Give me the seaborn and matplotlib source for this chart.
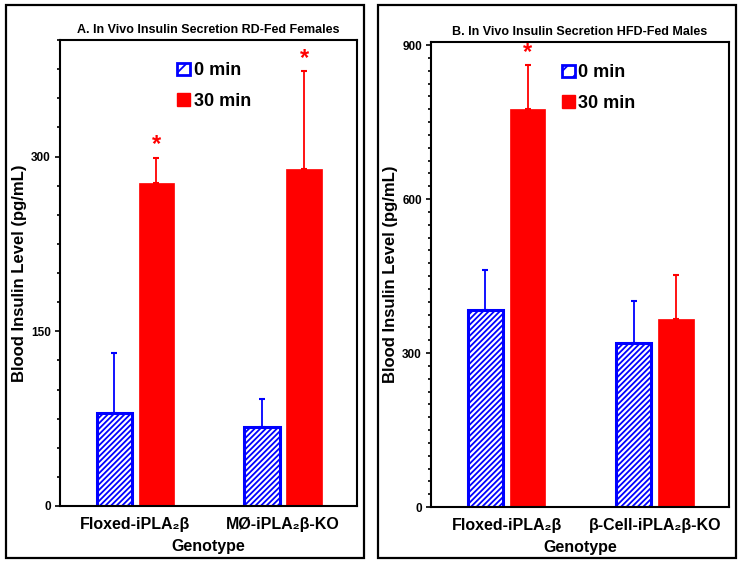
import pandas as pd
import seaborn as sns
import matplotlib.pyplot as plt
from matplotlib.patches import Patch, Rectangle
from matplotlib.ticker import MultipleLocator

# values (pg/mL), errors are upper SEM
groups_a = ['Floxed-iPLA₂β', 'MØ-iPLA₂β-KO']
a_0min = [80, 68]
a_0min_err = [51, 24]
a_30min = [277, 289]
a_30min_err = [22, 84]
a_signif = [True, True]

groups_b = ['Floxed-iPLA₂β', 'β-Cell-iPLA₂β-KO']
b_0min = [383, 320]
b_0min_err = [78, 81]
b_30min = [775, 367]
b_30min_err = [86, 86]
b_signif = [True, False]

times = ['0 min', '30 min']
BLUE = '#0000FF'
RED = '#FF0000'

sns.set_style('ticks')
plt.rcParams['font.family'] = ['Liberation Sans', 'DejaVu Sans']
plt.rcParams['font.weight'] = 'bold'
plt.rcParams['hatch.linewidth'] = 1.3
for k in ['text.color', 'axes.labelcolor', 'xtick.color', 'ytick.color']:
    plt.rcParams[k] = 'black'


def draw_panel(ax, groups, v0, e0, v30, e30, signif, title, ymax, major, legend_x):
    df = pd.DataFrame({
        'Genotype': groups * 2,
        'Time': [times[0]] * len(groups) + [times[1]] * len(groups),
        'Insulin': v0 + v30,
    })
    sns.barplot(data=df, x='Genotype', y='Insulin', hue='Time', order=groups,
                hue_order=times, palette=[BLUE, RED], errorbar=None,
                width=0.57, gap=0.16, legend=False, ax=ax)
    errs = e0 + e30
    n = len(groups)
    for i, p in enumerate(ax.patches):
        x = p.get_x() + p.get_width() / 2
        h = p.get_height()
        if i < n:
            p.set_facecolor('white')
            p.set_edgecolor(BLUE)
            p.set_hatch('//////')
            p.set_linewidth(2.2)
            col = BLUE
        else:
            p.set_facecolor(RED)
            p.set_edgecolor(RED)
            p.set_linewidth(0.5)
            col = RED
        ax.errorbar([x], [h], yerr=[[0], [errs[i]]], fmt='none', ecolor=col,
                    elinewidth=1.3, capsize=2.2, capthick=1.5, zorder=1)
        if i >= n and signif[i - n]:
            ax.annotate('*', (x, h + errs[i]), xytext=(0, 1), textcoords='offset points',
                        ha='center', va='bottom', color=RED, fontsize=17, fontweight='bold')

    ax.set_xlim(-0.51, 1.5)
    ax.set_ylim(0, ymax)
    ax.yaxis.set_major_locator(MultipleLocator(major))
    ax.yaxis.set_minor_locator(MultipleLocator(25))
    ax.tick_params(axis='y', which='major', length=3.5, width=1.2, labelsize=8.5, pad=3)
    ax.tick_params(axis='y', which='minor', length=2, width=1.2, left=True)
    ax.tick_params(axis='x', length=0, labelsize=11.5, pad=8)
    for lab in ax.get_xticklabels() + ax.get_yticklabels():
        lab.set_fontweight('bold')
    for s in ax.spines.values():
        s.set_visible(True)
        s.set_linewidth(1.5)
        s.set_color('black')
    ax.set_xlabel('Genotype', fontsize=11.5, fontweight='bold', labelpad=5)
    ax.set_ylabel('Blood Insulin Level (pg/mL)', fontsize=12, fontweight='bold', labelpad=3)
    ax.set_title(title, fontsize=9, fontweight='bold', pad=5)

    handles = [Patch(facecolor='white', edgecolor=BLUE, hatch='//', linewidth=2),
               Patch(facecolor=RED, edgecolor=RED)]
    ax.legend(handles, times, loc='upper left', bbox_to_anchor=(legend_x, 0.952),
              frameon=False, handlelength=0.7, handleheight=0.7,
              handletextpad=0.2, labelspacing=0.75, borderaxespad=0, borderpad=0,
              prop={'weight': 'bold', 'size': 13})


fig = plt.figure(figsize=(7.44, 5.66), dpi=100)
ax_a = fig.add_axes([60 / 744, 60 / 566, 297 / 744, 466 / 566])
ax_b = fig.add_axes([431 / 744, 59 / 566, 298 / 744, 465 / 566])

draw_panel(ax_a, groups_a, a_0min, a_0min_err, a_30min, a_30min_err, a_signif,
           'A. In Vivo Insulin Secretion RD-Fed Females', 400, 150, 0.395)
draw_panel(ax_b, groups_b, b_0min, b_0min_err, b_30min, b_30min_err, b_signif,
           'B. In Vivo Insulin Secretion HFD-Fed Males', 906, 300, 0.44)

# panel frames
for x0, x1 in [(6, 364), (378, 736)]:
    fig.add_artist(Rectangle((x0 / 744, 1 - 558 / 566), (x1 - x0) / 744, 553 / 566,
                             transform=fig.transFigure, fill=False, lw=1.6, ec='black'))

fig.savefig('out.png', dpi=100)
